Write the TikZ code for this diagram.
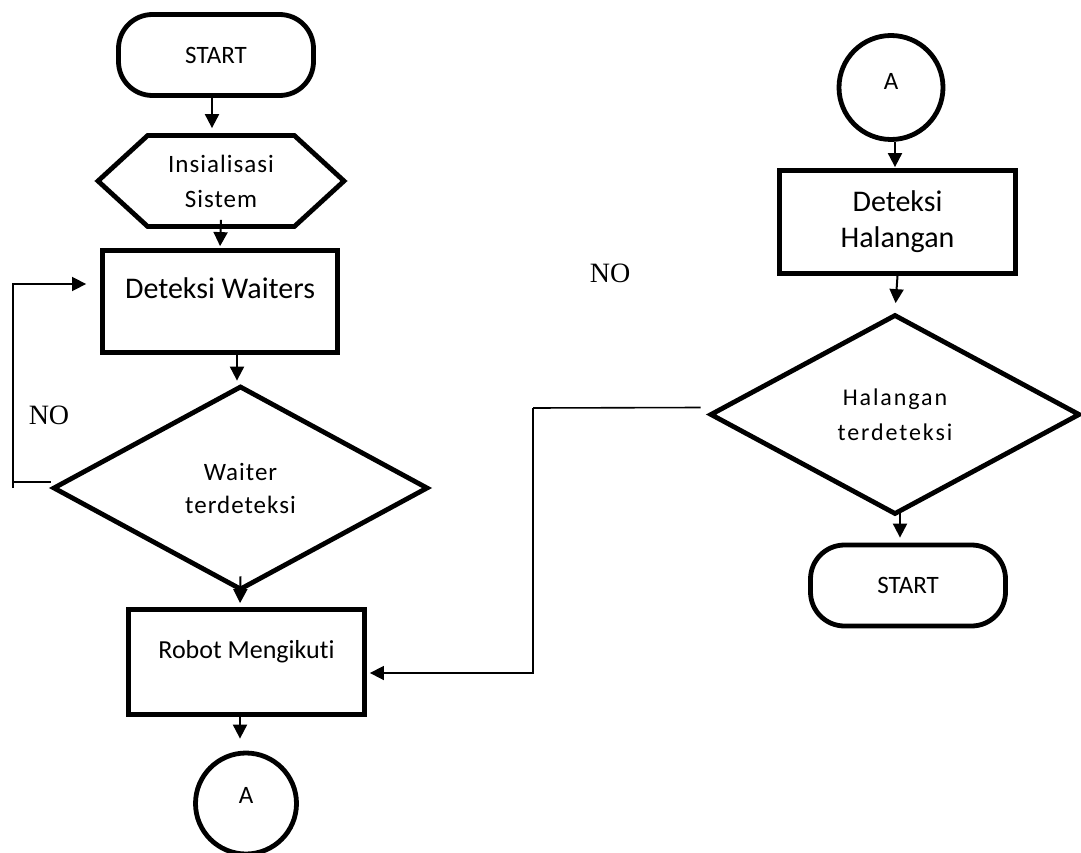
\documentclass[tikz,border=0pt]{standalone}
\usepackage{fontspec}
\setmainfont{Carlito}[Ligatures=NoCommon]
\newfontfamily\spaced[LetterSpace=4,Ligatures=NoCommon]{Carlito}
\newfontfamily\wide[LetterSpace=8,Ligatures=NoCommon]{Carlito}
\newfontfamily\notext{Liberation Serif}
\usetikzlibrary{shapes.geometric,shapes.symbols,arrows.meta}

\tikzset{
  box/.style={draw,line width=4.8pt,rectangle,inner sep=0pt},
  term/.style={draw,line width=4.8pt,rectangle,rounded corners=34pt,inner sep=0pt,
    minimum width=195pt,minimum height=81pt,font=\fontsize{25}{30}\selectfont},
  dec/.style={draw,line width=4.8pt,diamond,inner sep=0pt,align=center},
  con/.style={draw,line width=4.8pt,circle,inner sep=0pt,font=\fontsize{25}{30}\selectfont},
  flow/.style={line width=2pt,-{Triangle[length=14pt,width=14pt]}},
  link/.style={line width=1.6pt},
  nolab/.style={font=\notext\fontsize{28}{32}\selectfont}
}

\begin{document}
\begin{tikzpicture}[x=1pt,y=-1pt]
\useasboundingbox (0,0) rectangle (1081,853);

% left column
\node[term] (start1) at (216,55) {START};
\node[draw,line width=4.8pt,signal,signal to=west and east,signal pointer angle=85,
  minimum width=246pt,minimum height=91pt,inner sep=0pt,align=center,
  font=\spaced\fontsize{25}{35}\selectfont] (init) at (221,181) {Insialisasi\\Sistem};
\node[box,minimum width=235pt,minimum height=102pt,text height=20pt,text depth=26pt,
  font=\fontsize{30}{34}\selectfont] (waiters) at (220,301.5) {Deteksi Waiters};
\node[dec,minimum width=375pt,minimum height=204pt,
  font=\spaced\fontsize{25}{33}\selectfont] (diam1) at (240.5,488) {Waiter\\terdeteksi};
\node[box,minimum width=236pt,minimum height=105pt,text height=18pt,text depth=25pt,
  font=\fontsize{26}{31}\selectfont] (robot) at (246.5,662) {Robot Mengikuti};
\node[con,minimum size=101pt,text height=17pt,text depth=18pt] (conA1) at (246,803.5) {A};

% right column
\node[con,minimum size=104pt,text height=17pt,text depth=12pt] (conA2) at (891,87.5) {A};
\node[box,minimum width=236pt,minimum height=103pt,align=center,
  font=\fontsize{30}{36}\selectfont] (halang) at (897.5,222) {Deteksi\\Halangan};
\node[dec,minimum width=370pt,minimum height=200pt,
  font=\wide\fontsize{24}{35}\selectfont] (diam2) at (895,414.5) {Halangan\\terdeteksi};
\node[term] (start2) at (908,585.5) {START};

\node[nolab] (no1) at (49,415) {NO};
\node[nolab] (no2) at (610,273) {NO};

\coordinate (noL) at (13,488);
\coordinate (noR) at (533,408);

% arrows
\draw[flow,shorten >=5pt] ([xshift=-4pt]start1.south) -- ([xshift=-9pt]init.north);
\draw[flow,shorten >=2pt] ([yshift=9pt]init.south) -- (waiters.north);
\draw[flow,shorten >=3pt] ([xshift=17pt]waiters.south) -- ([xshift=-3.5pt]diam1.north);
\draw[flow,shorten >=4pt] ([yshift=16pt]diam1.south) -- ([xshift=-6.5pt]robot.north);
\draw[flow,shorten >=12pt] ([xshift=-6.5pt,yshift=5pt]robot.south) -- ([xshift=-6pt]conA1.north);
\draw[flow,shorten >=1pt] ([xshift=4pt]conA2.south) -- ([xshift=-2.5pt]halang.north);
\draw[flow,shorten >=9pt] (halang.south) -- (diam2.north);
\draw[flow,shorten >=5pt] ([xshift=5pt,yshift=7pt]diam2.south) -- ([xshift=-8pt]start2.north);

% NO loops
\draw[link] ([yshift=6pt]diam1.west) -- ([yshift=6pt]diam1.west -| noL);
\draw[link,-{Triangle[length=14pt,width=14pt]},shorten >=14pt] (noL) |- ([yshift=17.5pt]waiters.west);
\draw[link] ([xshift=-7pt,yshift=7pt]diam2.west) -- (noR);
\draw[link,-{Triangle[length=14pt,width=14pt]},shorten >=3pt] (noR) |- ([yshift=-11pt]robot.east);
\end{tikzpicture}
\end{document}
